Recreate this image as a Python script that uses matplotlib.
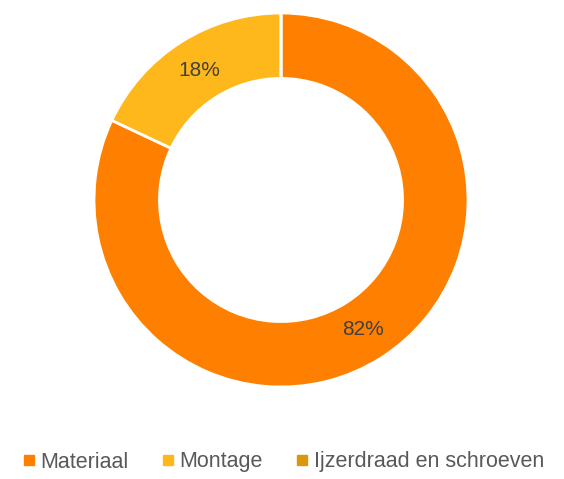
import matplotlib
matplotlib.use("Agg")
import matplotlib.pyplot as plt
from matplotlib.lines import Line2D
import numpy as np

categories = ["Materiaal", "Montage", "Ijzerdraad en schroeven"]
values = [82, 18, 0]
colors = ["#FF8000", "#FFB81C", "#D9960F"]

plt.rcParams['font.family'] = ['Liberation Sans', 'DejaVu Sans']

fig = plt.figure(figsize=(5.64, 4.79), dpi=100)
ax = fig.add_axes([94/564, 92/479, 374/564, 374/479])

total = sum(values)
wedges, _ = ax.pie(values, colors=colors, startangle=90, counterclock=False,
                   radius=1.0, wedgeprops=dict(width=0.35, edgecolor="white", linewidth=2))
ax.set_xlim(-1, 1)
ax.set_ylim(-1, 1)
ax.set_aspect("equal")
ax.axis("off")

cum = 0
for v in values:
    if v > 0:
        mid = (cum + v / 2) / total
        ang = np.deg2rad(90 - mid * 360)
        r = 0.82
        ax.text(r * np.cos(ang), r * np.sin(ang), f"{v}%", ha="center", va="center",
                fontsize=15, color="#404040")
    cum += v

handles = [Line2D([0], [0], marker="s", linestyle="none", markersize=6.5,
                  markerfacecolor=c, markeredgecolor=c) for c in colors]
fig.legend(handles, categories, loc="center", bbox_to_anchor=(0.5, 17/479), ncol=3,
           frameon=False, fontsize=15.5, labelcolor="#595959", handletextpad=0.15,
           columnspacing=1.4, handlelength=0.8)

fig.savefig("out.png", dpi=100)
